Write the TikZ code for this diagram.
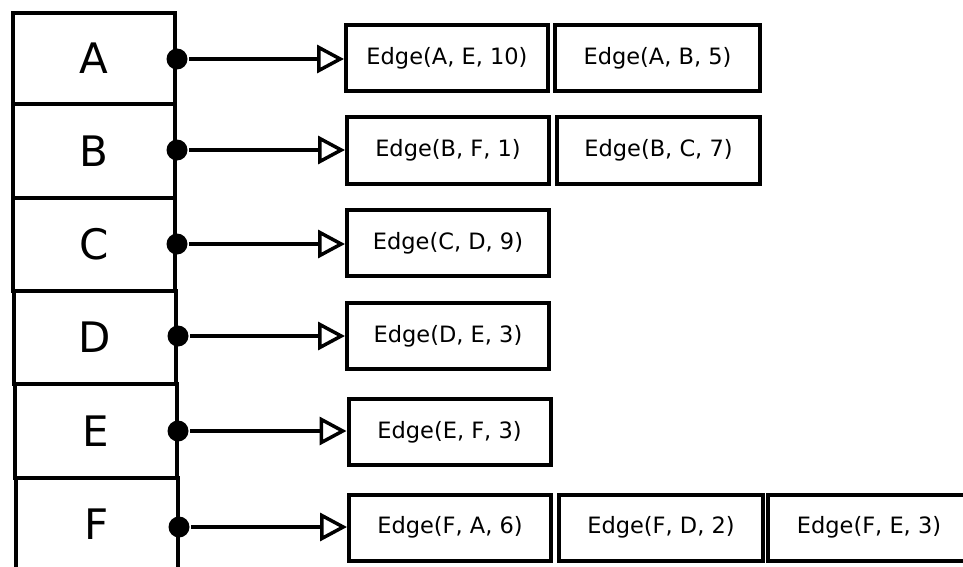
\documentclass[tikz,border=0pt]{standalone}
\usepackage{fontspec}
\setmainfont{DejaVu Sans}
\usetikzlibrary{arrows.meta}
\begin{document}
\begin{tikzpicture}[x=1pt,y=-1pt, line width=3pt,
  vbox/.style={draw, rectangle, line width=4pt, minimum width=162pt, minimum height=93pt, inner sep=0pt, font=\fontsize{42}{50}\selectfont},
  ebox/.style={draw, rectangle, line width=4pt, minimum width=202pt, minimum height=66pt, inner sep=0pt, font=\fontsize{22.5}{27}\selectfont},
  dotnode/.style={circle, fill, inner sep=0pt, minimum size=21pt},
  link/.style={line width=3.5pt, -{Triangle[open, length=27pt, width=28pt]}}]
\useasboundingbox (0,0) rectangle (963,567);
\begin{scope}
\clip (0,0) rectangle (963,567);
% vertex column
\node[vbox, minimum height=91pt] (vA) at (94,58.5) {A};
\node[vbox, minimum height=94pt] (vB) at (94,151) {B};
\node[vbox] (vC) at (94,244.5) {C};
\node[vbox] (vD) at (94.5,337.5) {D};
\node[vbox, minimum height=94pt] (vE) at (96,431) {E};
\node[vbox] (vF) at (97,524.5) {F};
% dots
\node[dotnode] (dA) at (177,59) {};
\node[dotnode] (dB) at (177,150) {};
\node[dotnode] (dC) at (177,244) {};
\node[dotnode] (dD) at (178,336) {};
\node[dotnode] (dE) at (178,431) {};
\node[dotnode] (dF) at (179,527) {};
% edge lists
\node[ebox] (eA1) at (447,58) {Edge(A, E, 10)};
\node[ebox, minimum width=205pt] (eA2) at (657.5,58) {Edge(A, B, 5)};
\node[ebox] (eB1) at (448,150.5) {Edge(B, F, 1)};
\node[ebox, minimum width=203pt] (eB2) at (658.5,150.5) {Edge(B, C, 7)};
\node[ebox] (eC1) at (448,243) {Edge(C, D, 9)};
\node[ebox] (eD1) at (448,336) {Edge(D, E, 3)};
\node[ebox] (eE1) at (449.5,432) {Edge(E, F, 3)};
\node[ebox] (eF1) at (450,527.5) {Edge(F, A, 6)};
\node[ebox, minimum width=204pt] (eF2) at (661,527.5) {Edge(F, D, 2)};
\node[ebox] (eF3) at (869,527.5) {Edge(F, E, 3)};
% connectors
\draw[link] (dA) -- (dA -| eA1.west);
\draw[link] (dB) -- (dB -| eB1.west);
\draw[link] (dC) -- (dC -| eC1.west);
\draw[link] (dD) -- (dD -| eD1.west);
\draw[link] (dE) -- (dE -| eE1.west);
\draw[link] (dF) -- (dF -| eF1.west);
\end{scope}
\end{tikzpicture}
\end{document}
